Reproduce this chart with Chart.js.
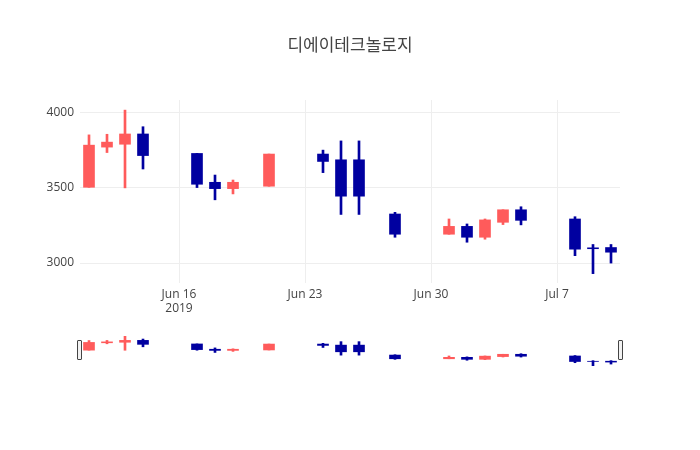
<!DOCTYPE html>
<html><head><meta charset="utf-8">
<script src="https://cdn.jsdelivr.net/npm/chart.js@4"></script>
<style>body{margin:0;background:#fff}#w{position:relative;width:700px;height:450px}
#c2{position:absolute;left:80px;top:336px}
#t{position:absolute;left:0;width:700px;top:31px;text-align:center;font:17px "Noto Sans CJK KR",sans-serif;color:#444}
.h{position:absolute;top:340px;width:3px;height:18px;border:1px solid #444;background:#f2f2f2;border-radius:1px}</style>
</head><body><div id="w"><canvas id="c1" width="700" height="450"></canvas><canvas id="c2" width="540" height="30"></canvas>
<div id="t">디에이테크놀로지</div>
<div class="h" style="left:77px"></div><div class="h" style="left:618px"></div></div>
<script>
// day of June 2019 (Jul 1 = 31)
const days  = [11,12,13,14,17,18,19,21,24,25,26,28,31,32,33,34,35,38,39,40];
const open  = [3502,3768,3787,3855,3726,3535,3493,3509,3722,3684,3684,3325,3191,3243,3171,3270,3353,3292,3101,3103];
const close = [3781,3801,3855,3712,3522,3493,3535,3722,3673,3443,3443,3191,3243,3171,3286,3353,3283,3092,3095,3072];
const high  = [3849,3853,4013,3903,3726,3583,3550,3722,3748,3809,3809,3336,3292,3259,3292,3353,3373,3307,3123,3123];
const low   = [3502,3732,3498,3623,3500,3419,3458,3509,3599,3322,3322,3171,3191,3138,3158,3255,3253,3049,2930,3000];
const tickDays = [16,23,30,37];
const tickLabels = [["Jun 16","2019"],"Jun 23","Jun 30","Jul 7"];
const UP='#FF5B5B', DOWN='#0000A0';
const cols = open.map((o,i)=>close[i]>=o?UP:DOWN);
const bodies = days.map((d,i)=>({x:d,y:[open[i],close[i]===open[i]?close[i]+4:close[i]]}));
const wicks = days.map((d,i)=>({x:d,y:[low[i],high[i]]}));
function ds(bt,bw){return [
 {data:bodies,backgroundColor:cols,barThickness:bt,grouped:false,order:0},
 {data:wicks,backgroundColor:cols,barThickness:bw,grouped:false,order:1}];}
const font={family:'"Open Sans", sans-serif',size:12};
new Chart(document.getElementById('c1'),{type:'bar',data:{datasets:ds(11,2)},
 options:{responsive:false,animation:false,
  layout:{padding:{left:0,right:80,top:100,bottom:127}},
  plugins:{legend:{display:false},tooltip:{enabled:false}},
  scales:{
   x:{type:'linear',offset:false,min:10.5,max:40.5,afterBuildTicks:s=>{s.ticks=tickDays.map(v=>({value:v}))},
      afterFit:s=>{s.height=40},
      ticks:{color:'#444',font,padding:4,callback:(v)=>tickLabels[tickDays.indexOf(v)]},
      grid:{color:'#eee',drawTicks:false,offset:false},border:{display:false}},
   y:{min:2868,max:4080,afterBuildTicks:s=>{s.ticks=[3000,3500,4000].map(v=>({value:v}))},
      afterFit:s=>{s.width=80},
      ticks:{color:'#444',font,padding:6,callback:v=>String(v)},grid:{color:'#eee',drawTicks:false},border:{display:false}}}}});
new Chart(document.getElementById('c2'),{type:'bar',data:{datasets:ds(11,2)},
 options:{responsive:false,animation:false,layout:{padding:0},
  plugins:{legend:{display:false},tooltip:{enabled:false}},
  scales:{x:{type:'linear',offset:false,min:10.5,max:40.5,display:false},y:{min:2930,max:4013,display:false}}}});
</script></body></html>
